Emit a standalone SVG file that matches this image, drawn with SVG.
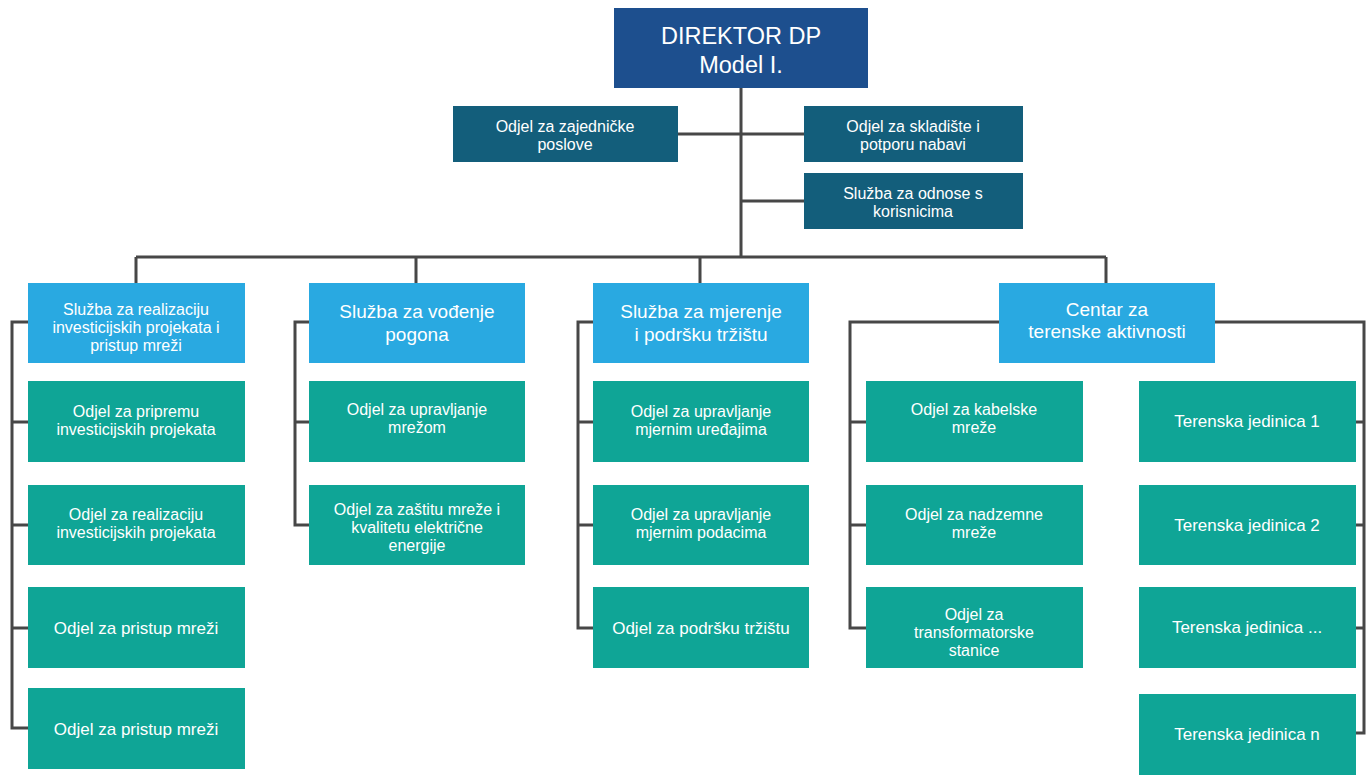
<svg xmlns="http://www.w3.org/2000/svg" width="1366" height="775" viewBox="0 0 1366 775">
<style>
text{font-family:"Liberation Sans",Arial,sans-serif;fill:#fff;text-anchor:middle}
.t{font-size:16px}
.u{font-size:17px}
.s{font-size:19px}
.d{font-size:23.5px}
.dir{fill:#1d4f8e}
.top{fill:#135e7b}
.sl{fill:#29a9e1}
.od{fill:#0fa596}
.c{fill:none;stroke:#474747;stroke-width:3}
</style>
<rect width="1366" height="775" fill="#fff"/>
<g id="connectors">
<path class="c" d="M741 88V257M678 134H804M741 201H804M136 257H1106M136 257V283M416 257V283M700 257V283M1106 257V283"/>
<path class="c" d="M28 322H12V728H28M12 422H28M12 525H28M12 628H28"/>
<path class="c" d="M309 322H295V525H309M295 422H309"/>
<path class="c" d="M593 322H578V628H593M578 422H593M578 525H593"/>
<path class="c" d="M999 322H850V628H866M850 422H866M850 525H866"/>
<path class="c" d="M1215 322H1364V733H1356M1356 422H1364M1356 525H1364M1356 628H1364"/>
</g>
<g id="director"><rect class="dir" x="614" y="8" width="254" height="80"/><text class="d" x="741" y="44">DIREKTOR DP</text><text class="d" x="741" y="73">Model I.</text></g>
<g id="zajednicke"><rect class="top" x="453" y="106" width="225" height="56"/><text class="t" x="565" y="132">Odjel za zajedničke</text><text class="t" x="565" y="150">poslove</text></g>
<g id="skladiste"><rect class="top" x="804" y="106" width="219" height="56"/><text class="t" x="913" y="132">Odjel za skladište i</text><text class="t" x="913" y="150">potporu nabavi</text></g>
<g id="odnose"><rect class="top" x="804" y="173" width="219" height="56"/><text class="t" x="913" y="199">Služba za odnose s</text><text class="t" x="913" y="217">korisnicima</text></g>

<g id="sl-realizacija"><rect class="sl" x="28" y="283" width="217" height="80"/><text class="t" x="136" y="315">Služba za realizaciju</text><text class="t" x="136" y="333">investicijskih projekata i</text><text class="t" x="136" y="351">pristup mreži</text></g>
<g id="sl-vodjenje"><rect class="sl" x="309" y="283" width="216" height="80"/><text class="s" x="417" y="318">Služba za vođenje</text><text class="s" x="417" y="341">pogona</text></g>
<g id="sl-mjerenje"><rect class="sl" x="593" y="283" width="216" height="80"/><text class="s" x="701" y="318">Služba za mjerenje</text><text class="s" x="701" y="341">i podršku tržištu</text></g>
<g id="centar"><rect class="sl" x="999" y="283" width="216" height="80"/><text class="s" x="1107" y="316">Centar za</text><text class="s" x="1107" y="338">terenske aktivnosti</text></g>

<g id="a1"><rect class="od" x="28" y="381" width="217" height="81"/><text class="t" x="136" y="417">Odjel za pripremu</text><text class="t" x="136" y="435">investicijskih projekata</text></g>
<g id="a2"><rect class="od" x="28" y="485" width="217" height="80"/><text class="t" x="136" y="520">Odjel za realizaciju</text><text class="t" x="136" y="538">investicijskih projekata</text></g>
<g id="a3"><rect class="od" x="28" y="587" width="217" height="81"/><text class="u" x="136" y="634">Odjel za pristup mreži</text></g>
<g id="a4"><rect class="od" x="28" y="688" width="217" height="81"/><text class="u" x="136" y="735">Odjel za pristup mreži</text></g>

<g id="b1"><rect class="od" x="309" y="381" width="216" height="81"/><text class="t" x="417" y="415">Odjel za upravljanje</text><text class="t" x="417" y="433">mrežom</text></g>
<g id="b2"><rect class="od" x="309" y="485" width="216" height="80"/><text class="t" x="417" y="515">Odjel za zaštitu mreže i</text><text class="t" x="417" y="533">kvalitetu električne</text><text class="t" x="417" y="551">energije</text></g>

<g id="c1"><rect class="od" x="593" y="381" width="216" height="81"/><text class="t" x="701" y="417">Odjel za upravljanje</text><text class="t" x="701" y="435">mjernim uređajima</text></g>
<g id="c2"><rect class="od" x="593" y="485" width="216" height="80"/><text class="t" x="701" y="520">Odjel za upravljanje</text><text class="t" x="701" y="538">mjernim podacima</text></g>
<g id="c3"><rect class="od" x="593" y="587" width="216" height="81"/><text class="u" x="701" y="634">Odjel za podršku tržištu</text></g>

<g id="d1"><rect class="od" x="866" y="381" width="217" height="81"/><text class="t" x="974" y="415">Odjel za kabelske</text><text class="t" x="974" y="433">mreže</text></g>
<g id="d2"><rect class="od" x="866" y="485" width="217" height="80"/><text class="t" x="974" y="520">Odjel za nadzemne</text><text class="t" x="974" y="538">mreže</text></g>
<g id="d3"><rect class="od" x="866" y="587" width="217" height="81"/><text class="t" x="974" y="620">Odjel za</text><text class="t" x="974" y="638">transformatorske</text><text class="t" x="974" y="656">stanice</text></g>

<g id="t1"><rect class="od" x="1139" y="381" width="217" height="81"/><text class="u" x="1247" y="427">Terenska jedinica 1</text></g>
<g id="t2"><rect class="od" x="1139" y="485" width="217" height="80"/><text class="u" x="1247" y="531">Terenska jedinica 2</text></g>
<g id="t3"><rect class="od" x="1139" y="587" width="217" height="81"/><text class="u" x="1247" y="633">Terenska jedinica ...</text></g>
<g id="tn"><rect class="od" x="1139" y="694" width="217" height="81"/><text class="u" x="1247" y="740">Terenska jedinica n</text></g>
</svg>
